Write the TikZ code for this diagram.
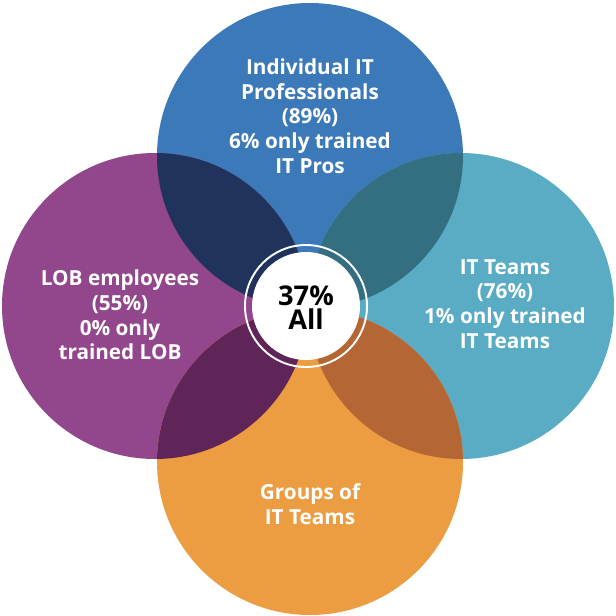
\documentclass[tikz,border=0pt]{standalone}
\usepackage{fontspec}
\setmainfont{Open Sans}
\definecolor{cblue}{HTML}{3C79B8}
\definecolor{cpurple}{HTML}{92468B}
\definecolor{cteal}{HTML}{5AACC5}
\definecolor{corange}{HTML}{EC9D41}
\definecolor{cnavy}{HTML}{20335C}
\definecolor{cdteal}{HTML}{336F80}
\definecolor{cdpurple}{HTML}{5F2559}
\definecolor{cbrown}{HTML}{B46734}
\begin{document}
\begin{tikzpicture}[x=0.02cm,y=-0.02cm,
  lbl/.style={text=white,font=\bfseries\fontsize{11.8}{14.1}\selectfont,align=center,inner sep=0pt},
  ctr/.style={text=black,font=\bfseries\fontsize{15.5}{13.6}\selectfont,align=center,inner sep=0pt}]
\useasboundingbox (0,0) rectangle (616,616);
\coordinate (T) at (310,156);
\coordinate (L) at (155,306);
\coordinate (R) at (461,306);
\coordinate (B) at (310,462);
\coordinate (C) at (306,306);
\fill[cblue] (T) circle[radius=153];
\fill[cpurple] (L) circle[radius=153];
\fill[cteal] (R) circle[radius=153];
\fill[corange] (B) circle[radius=153];
\begin{scope}\clip (T) circle[radius=153]; \fill[cnavy] (L) circle[radius=153]; \end{scope}
\begin{scope}\clip (T) circle[radius=153]; \fill[cdteal] (R) circle[radius=153]; \end{scope}
\begin{scope}\clip (B) circle[radius=153]; \fill[cdpurple] (L) circle[radius=153]; \end{scope}
\begin{scope}\clip (B) circle[radius=153]; \fill[cbrown] (R) circle[radius=153]; \end{scope}
\fill[white] (C) circle[radius=54];
\draw[white,line width=1.1pt] (C) circle[radius=61];
\node[lbl] (top) at (310,116) {Individual IT\\Professionals\\(89\%)\\6\% only trained\\IT Pros};
\node[lbl] (left) at (120,315) {LOB employees\\(55\%)\\0\% only\\trained LOB};
\node[lbl] (right) at (505,304) {IT Teams\\(76\%)\\1\% only trained\\IT Teams};
\node[lbl] (bottom) at (310,504) {Groups of\\IT Teams};
\node[ctr] (all) at (306,308) {37\%\\All};
\end{tikzpicture}
\end{document}
